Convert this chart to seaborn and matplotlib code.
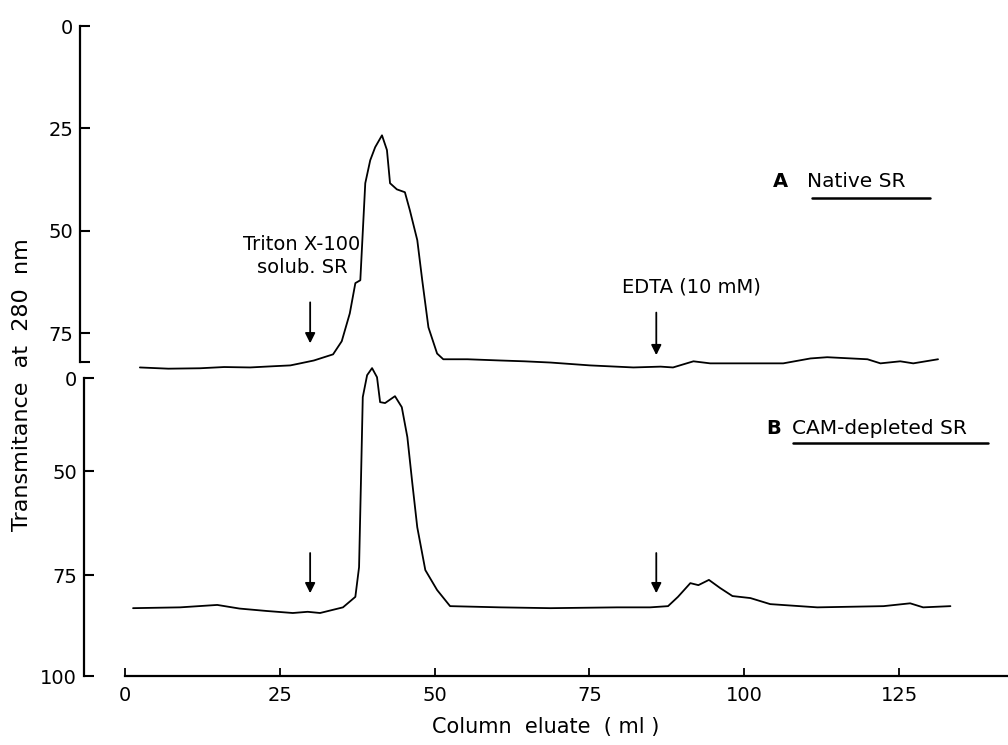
import numpy as np
import pandas as pd
import seaborn as sns
import matplotlib.pyplot as plt

# trace A, native SR: column eluate (ml) vs transmittance
native_ml = [2.4, 7, 12.1, 16, 20.2, 24, 26.7, 28.3, 30.5, 33.6, 35, 36.3, 37.2, 38.0,
             38.8, 39.6, 40.4, 41.5, 42.3, 42.8, 43.9, 45.2, 46.0, 47.2, 48.0, 49.0,
             50.4, 51.4, 55.3, 60.6, 64.5, 68.7, 75.1, 82.1, 86.5, 88.5, 91.8, 94.5,
             101.0, 106.3, 110.7, 113.4, 119.9, 122.0, 125.2, 127.3, 131.3]
native_t = [83.4, 83.7, 83.6, 83.3, 83.4, 83.1, 82.9, 82.4, 81.7, 80.2, 77, 70.2, 62.8, 62.1,
            38.4, 32.8, 29.6, 26.7, 30.3, 38.4, 39.9, 40.6, 45.0, 52.3, 62.1, 73.6,
            80.0, 81.4, 81.4, 81.7, 81.9, 82.2, 82.9, 83.4, 83.2, 83.4, 81.9, 82.4,
            82.4, 82.4, 81.2, 80.9, 81.4, 82.4, 81.9, 82.4, 81.4]

# trace B, CAM-depleted SR
cam_ml = [1.3, 8.9, 14.9, 18.5, 22.9, 27.1, 29.5, 31.5, 35.2, 37.2, 37.8, 38.1, 38.4,
          39.1, 39.9, 40.7, 41.2, 42.0, 43.6, 44.7, 45.6, 46.4, 47.2, 48.5, 50.4,
          52.5, 60.6, 68.7, 79.5, 84.8, 87.7, 89.3, 91.3, 92.6, 94.3, 96.1, 98.1,
          101.0, 104.2, 111.8, 122.5, 126.8, 128.9, 133.3]
cam_t = [83.2, 83.0, 82.4, 83.3, 83.9, 84.4, 84.1, 84.4, 83.0, 80.4, 73.1, 52.9, 10.2,
         -1.6, -5.4, -0.5, 12.9, 13.4, 9.7, 15.6, 31.7, 52.9, 63.5, 73.8, 78.7,
         82.7, 83.0, 83.2, 83.0, 83.0, 82.7, 80.4, 77.0, 77.5, 76.2, 78.2, 80.2,
         80.7, 82.2, 83.0, 82.7, 82.0, 83.0, 82.7]

top_ticks = [0, 25, 50, 75]
bottom_ticks = [0, 50, 75, 100]
x_ticks = [0, 25, 50, 75, 100, 125]

arrow_ml = [29.9, 85.8]
top_arrow_from = [67.5, 70.0]
top_arrow_to = [77.5, 80.4]
bottom_arrow_from = [69.7, 69.7]
bottom_arrow_to = [79.5, 79.5]

native = pd.DataFrame({"ml": native_ml, "T": native_t})
cam = pd.DataFrame({"ml": cam_ml, "T": cam_t})

sns.set_style("ticks")
plt.rcParams["font.family"] = ["DejaVu Sans"]
for k in ("text.color", "axes.labelcolor", "xtick.color", "ytick.color", "axes.edgecolor"):
    plt.rcParams[k] = "black"

W, H = 1008, 745
fig = plt.figure(figsize=(W / 100, H / 100), dpi=100)

# lower panel's hand-drawn y axis is not evenly spaced
scale_v = [-50, 0, 50, 75, 100, 150]
scale_p = [-93, 0, 93, 197, 298, 500]
fwd = lambda v: np.interp(v, scale_v, scale_p)
inv = lambda p: np.interp(p, scale_p, scale_v)

ax1 = fig.add_axes([80 / W, (H - 374) / H, (W - 80) / W, (374 - 26) / H])
ax2 = fig.add_axes([84 / W, (H - 676) / H, (W - 84) / W, (676 - 367) / H])
for ax in (ax1, ax2):
    ax.set_facecolor("none")

sns.lineplot(data=native, x="ml", y="T", ax=ax1, color="black", lw=1.3,
             sort=False, estimator=None)
sns.lineplot(data=cam, x="ml", y="T", ax=ax2, color="black", lw=1.3,
             sort=False, estimator=None)
for ax in (ax1, ax2):
    for ln in ax.lines:
        ln.set_clip_on(False)

ax1.set_xlim(-7.27, 142.6)
ax1.set_ylim(85, 0)
ax2.set_yscale("function", functions=(fwd, inv))
ax2.set_xlim(-6.62, 142.6)
ax2.set_ylim(100, -6)

sns.despine(ax=ax1, bottom=True)
sns.despine(ax=ax2)
ax1.spines["left"].set_bounds(0, 82)
ax2.spines["left"].set_bounds(0, 100)
ax2.spines["bottom"].set_bounds(0, 142.6)
for ax in (ax1, ax2):
    for s in ax.spines.values():
        s.set_linewidth(1.6)

ax1.set_xticks([])
ax1.set_yticks(top_ticks)
ax1.set_yticks([82], minor=True)
ax2.set_yticks(bottom_ticks)
ax2.yaxis.set_minor_locator(plt.NullLocator())
ax2.set_xticks(x_ticks)
for ax in (ax1, ax2):
    ax.tick_params(axis="y", which="both", direction="in", length=7, width=1.5,
                   labelsize=14, pad=5)
ax2.tick_params(axis="x", direction="in", length=6, width=1.3, labelsize=14, pad=7)
ax1.set_xlabel("")
ax1.set_ylabel("")
ax2.set_ylabel("")
ax2.set_xlabel("Column  eluate  ( ml )", fontsize=15, labelpad=9)
fig.text(22 / W, 1 - 385 / H, "Transmitance  at  280  nm", rotation=90,
         ha="center", va="center", fontsize=16)

arrow_kw = dict(arrowstyle="-|>", color="black", lw=1.3, mutation_scale=15,
                shrinkA=0, shrinkB=0)
for x, a, b in zip(arrow_ml, top_arrow_from, top_arrow_to):
    ax1.annotate("", xy=(x, b), xytext=(x, a), arrowprops=arrow_kw)
for x, a, b in zip(arrow_ml, bottom_arrow_from, bottom_arrow_to):
    ax2.annotate("", xy=(x, b), xytext=(x, a), arrowprops=arrow_kw)

ax1.text(28.6, 56.2, "Triton X-100\nsolub. SR", ha="center", va="center",
         fontsize=14, linespacing=1.25)
ax1.text(91.4, 63.8, "EDTA (10 mM)", ha="center", va="center", fontsize=14)

ax1.text(105.8, 38.1, "A", ha="center", va="center", fontsize=14, fontweight="bold")
ax1.text(110.1, 38.1, "Native SR", ha="left", va="center", fontsize=14.5)
ax1.plot([111.0, 130.0], [42.0, 42.0], color="black", lw=1.8, clip_on=False)

ax2.text(104.8, 26.9, "B", ha="center", va="center", fontsize=14, fontweight="bold")
ax2.text(107.7, 26.9, "CAM-depleted SR", ha="left", va="center", fontsize=14.5)
ax2.plot([107.9, 139.4], [34.9, 34.9], color="black", lw=1.8, clip_on=False)

fig.savefig("out.png", dpi=100)
